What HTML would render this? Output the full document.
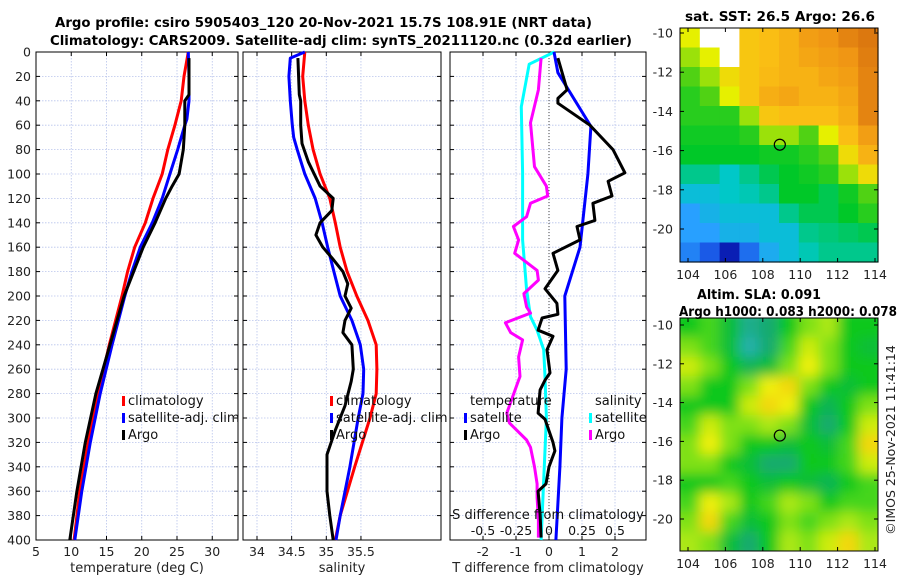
<!DOCTYPE html>
<html><head><meta charset="utf-8"><style>
body{margin:0;background:#fff;}
svg{display:block;font-family:"DejaVu Sans","Liberation Sans",sans-serif;}
</style></head><body>
<svg id="fig" width="900" height="580" viewBox="0 0 900 580" xmlns="http://www.w3.org/2000/svg">
<defs>
<filter id="blur" x="0" y="0" width="1" height="1"><feGaussianBlur stdDeviation="6"/></filter>
<clipPath id="clipMap2"><rect x="680" y="318" width="198" height="233"/></clipPath>
</defs>
<g font-weight="bold" font-size="13" fill="#000">
<text x="55" y="27" textLength="537" lengthAdjust="spacingAndGlyphs">Argo profile: csiro 5905403_120 20-Nov-2021 15.7S 108.91E (NRT data)</text>
<text x="50" y="45" textLength="582" lengthAdjust="spacingAndGlyphs">Climatology: CARS2009. Satellite-adj clim: synTS_20211120.nc (0.32d earlier)</text>
</g>
<g id="plots"></g>
</svg>
<script>
// ---- data ----
const depthsT = [0,20,40,60,80,100,120,140,160,180,200,240,280,320,360,400];
const tempClim = [26.6,26.0,25.6,24.7,23.7,22.9,21.6,20.5,19.0,18.0,17.2,15.4,13.8,12.4,11.2,10.4];
const depthsTS = [0,20,40,55,60,80,100,120,140,160,180,200,240,280,320,360,400];
const tempSat = [26.6,26.7,26.7,26.4,26.1,25.1,24.0,22.9,21.5,19.8,18.6,17.6,15.8,14.1,12.7,11.5,10.5];
const depthsTA = [5,35,40,60,80,100,110,120,140,160,200,240,280,320,360,400];
const tempArgo = [26.7,26.7,26.1,26.1,25.9,25.3,24.3,23.4,21.9,20.2,17.5,15.5,13.5,12.0,10.8,9.8];

const depthsSC = [0,20,40,60,80,100,120,140,160,180,200,220,240,260,280,300,340,380,400];
const salClim = [34.69,34.66,34.69,34.74,34.81,34.91,35.05,35.13,35.20,35.30,35.44,35.60,35.72,35.73,35.72,35.63,35.41,35.20,35.13];
const depthsSS = [0,5,20,40,60,70,80,100,120,140,160,180,200,220,240,260,280,300,340,380,400];
const salSat = [34.69,34.48,34.46,34.48,34.51,34.53,34.58,34.69,34.84,34.94,35.02,35.11,35.20,35.37,35.49,35.54,35.53,35.46,35.34,35.20,35.14];
const depthsSA = [5,35,40,60,75,90,110,120,130,140,150,160,170,180,190,200,210,220,230,240,260,270,290,310,330,360,380,400];
const salArgo = [34.59,34.61,34.63,34.63,34.65,34.74,34.91,35.10,35.08,34.91,34.85,34.95,35.10,35.24,35.31,35.27,35.36,35.27,35.24,35.37,35.39,35.36,35.27,35.13,35.01,35.01,35.05,35.10];

const depthsDT = [0,17,61,100,160,200,260,300,340,400];
const dTsat = [0.15,0.27,1.27,1.18,0.94,0.48,0.52,0.39,0.33,0.21];
const depthsDA = [5,31,38,42,60,80,99,106,118,124,138,143,154,165,179,194,206,215,218,228,233,244,263,269,277,296,301,320,327,340,354,360,379,398];
const dTargo = [0.27,0.55,0.27,0.27,1.24,1.94,2.30,1.79,1.91,1.33,1.39,0.85,0.94,0.12,0.27,-0.12,0.24,0.27,-0.21,-0.33,0.12,-0.06,0.03,-0.12,-0.27,-0.33,-0.12,0.12,0.18,0,-0.09,-0.33,-0.27,-0.24];
const depthsDSS = [0,10,45,99,154,195,217,228,244,266,300,400];
const dSsat = [0.04,-0.15,-0.21,-0.20,-0.20,-0.17,-0.14,-0.09,-0.04,-0.03,-0.02,-0.06];
const depthsDSA = [5,31,58,94,110,118,124,135,143,154,165,179,187,198,209,214,222,230,236,250,266,269,296,304,318,324,340,354,365,384,398];
const dSargo = [-0.06,-0.08,-0.14,-0.11,-0.02,-0.01,-0.14,-0.17,-0.27,-0.23,-0.26,-0.09,-0.08,-0.19,-0.17,-0.14,-0.33,-0.29,-0.20,-0.23,-0.22,-0.23,-0.32,-0.30,-0.17,-0.14,-0.11,-0.09,-0.09,-0.08,-0.08];

const depthTicks = [0,20,40,60,80,100,120,140,160,180,200,220,240,260,280,300,320,340,360,380,400];
const tempTicks = [5,10,15,20,25,30];
const salTicks = [34,34.5,35,35.5];
const salTickLabels = ["34","34.5","35","35.5"];
const dTTicks = [-2,-1,0,1,2];
const dSTicks = [-0.5,-0.25,0,0.25,0.5];
const dSTickLabels = ["-0.5","-0.25","0","0.25","0.5"];
const lonTicks = [104,106,108,110,112,114];
const latTicks = [-10,-12,-14,-16,-18,-20];

const sstGrid = [
[0.6,null,null,0.7,0.72,0.75,0.8,0.82,0.85,0.87],
[0.55,0.6,null,0.7,0.72,0.75,0.78,0.8,0.82,0.86],
[0.5,0.55,0.65,0.7,0.73,0.75,0.75,0.78,0.8,0.85],
[0.45,0.5,0.6,0.7,0.76,0.78,0.75,0.75,0.78,0.85],
[0.45,0.45,0.45,0.55,0.7,0.72,0.72,0.72,0.76,0.85],
[0.42,0.42,0.42,0.45,0.55,0.55,0.5,0.6,0.72,0.8],
[0.4,0.4,0.4,0.4,0.42,0.42,0.45,0.5,0.65,0.75],
[0.35,0.35,0.32,0.35,0.38,0.4,0.42,0.45,0.55,0.65],
[0.3,0.3,0.32,0.33,0.35,0.4,0.4,0.38,0.42,0.5],
[0.25,0.28,0.3,0.3,0.3,0.35,0.38,0.38,0.4,0.45],
[0.25,0.25,0.28,0.28,0.3,0.3,0.35,0.36,0.37,0.38],
[0.22,0.18,0.1,0.2,0.27,0.3,0.33,0.35,0.35,0.35]];
const slaGrid = [
[0.5,0.55,0.45,0.3,0.35,0.5,0.6,0.65,0.5,0.5],
[0.6,0.55,0.45,0.25,0.35,0.55,0.7,0.6,0.5,0.45],
[0.7,0.6,0.5,0.4,0.45,0.6,0.75,0.6,0.5,0.5],
[0.6,0.5,0.5,0.6,0.75,0.8,0.6,0.5,0.45,0.5],
[0.5,0.5,0.5,0.7,0.8,0.75,0.5,0.4,0.5,0.6],
[0.55,0.7,0.6,0.6,0.65,0.6,0.45,0.35,0.5,0.7],
[0.6,0.75,0.6,0.5,0.5,0.45,0.5,0.45,0.55,0.8],
[0.6,0.6,0.5,0.45,0.35,0.35,0.5,0.5,0.55,0.7],
[0.5,0.5,0.55,0.5,0.45,0.5,0.45,0.4,0.5,0.55],
[0.55,0.75,0.65,0.5,0.55,0.65,0.6,0.5,0.55,0.55],
[0.6,0.8,0.55,0.45,0.5,0.6,0.55,0.6,0.65,0.6],
[0.65,0.6,0.45,0.35,0.5,0.65,0.6,0.7,0.8,0.65]];

// ---- drawing ----
const NS="http://www.w3.org/2000/svg";
const root=document.getElementById('plots');
function mk(tag,attrs,parent,text){const e=document.createElementNS(NS,tag);for(const k in attrs)e.setAttribute(k,attrs[k]);if(text!==undefined)e.textContent=text;(parent||root).appendChild(e);return e;}
const Y0=52,Y1=540;
const yD=d=>Y0+(d/400)*(Y1-Y0);

function panel(name,x0,x1,xs,ticks,labels){
  const g=mk('g',{},root);
  
  
  for(const d of depthTicks){ if(d>0&&d<400) mk('line',{x1:x0,x2:x1,y1:yD(d),y2:yD(d),stroke:'#b8c4ec','stroke-width':0.8,'stroke-dasharray':'1.5,1.5'},g);}
  ticks.forEach((t,i)=>{const x=xs(t); if(x>x0&&x<x1) mk('line',{x1:x,x2:x,y1:Y0,y2:Y1,stroke:'#b8c4ec','stroke-width':0.8,'stroke-dasharray':'1.5,1.5'},g);
    mk('line',{x1:x,x2:x,y1:Y1,y2:Y1-4,stroke:'#000'},g);mk('line',{x1:x,x2:x,y1:Y0,y2:Y0+4,stroke:'#000'},g);
    if(labels) mk('text',{x:x,y:Y1+16,'font-size':12.5,'text-anchor':'middle',fill:'#222'},g,labels[i]);});
  for(const d of depthTicks){mk('line',{x1:x0,x2:x0+4,y1:yD(d),y2:yD(d),stroke:'#000'},g);mk('line',{x1:x1,x2:x1-4,y1:yD(d),y2:yD(d),stroke:'#000'},g);}
  mk('rect',{x:x0,y:Y0,width:x1-x0,height:Y1-Y0,fill:'none',stroke:'#000','stroke-width':1},g);
  return g;
}
function line(g,name,xs,xv,dv,color,w){
  const p=mk('path',{d:xv.map((v,i)=>(i?'L':'M')+xs(v).toFixed(1)+','+yD(dv[i]).toFixed(1)).join(''),fill:'none',stroke:color,'stroke-width':w||3,'stroke-linejoin':'round'},g);
  
  
}
function legendEntry(g,name,x,y,color,label){
  const e=mk('g',{},g);
  
  
  mk('rect',{x:x-6,y:y-9,width:3,height:10,fill:color},e);
  mk('text',{x:x,y:y,'font-size':13,fill:'#111'},e,label);
}

const yl=mk('g',{'font-size':12.5,'text-anchor':'end',fill:'#222'});


depthTicks.forEach(d=>mk('text',{x:31,y:yD(d)+4.5},yl,String(d)));

const xT=t=>36+(t-5)*7.05;
const p1=panel('temperature-panel',36,238,xT,tempTicks,tempTicks.map(String));
line(p1,'temp-climatology-line',xT,tempClim,depthsT,'#f00');
line(p1,'temp-satellite-line',xT,tempSat,depthsTS,'#00f');
line(p1,'temp-argo-line',xT,tempArgo,depthsTA,'#000');
legendEntry(p1,'legend-climatology',128,405,'#f00','climatology');
legendEntry(p1,'legend-satellite-adj',128,422,'#00f','satellite-adj. clim');
legendEntry(p1,'legend-argo',128,439,'#000','Argo');
mk('text',{x:137,y:572,'font-size':13,'text-anchor':'middle',fill:'#222'},p1,'temperature (deg C)');

const xS=s=>257+(s-34)*69.3;
const p2=panel('salinity-panel',243,441,xS,salTicks,salTickLabels);
line(p2,'sal-climatology-line',xS,salClim,depthsSC,'#f00');
line(p2,'sal-satellite-line',xS,salSat,depthsSS,'#00f');
line(p2,'sal-argo-line',xS,salArgo,depthsSA,'#000');
legendEntry(p2,'legend-climatology-2',336,405,'#f00','climatology');
legendEntry(p2,'legend-satellite-adj-2',336,422,'#00f','satellite-adj. clim');
legendEntry(p2,'legend-argo-2',336,439,'#000','Argo');
mk('text',{x:342,y:572,'font-size':13,'text-anchor':'middle',fill:'#222'},p2,'salinity');

const xDT=t=>549+t*33;
const xDS=s=>549+s*132;
const p3=panel('difference-panel',450,646,xDT,dTTicks,dTTicks.map(String));
mk('line',{x1:549,x2:549,y1:Y0,y2:Y1,stroke:'#444','stroke-width':1,'stroke-dasharray':'1,2'},p3);
line(p3,'salinity-satellite-diff-line',xDS,dSsat,depthsDSS,'#0ff');
line(p3,'salinity-argo-diff-line',xDS,dSargo,depthsDSA,'#f0f');
line(p3,'temp-satellite-diff-line',xDT,dTsat,depthsDT,'#00f');
line(p3,'temp-argo-diff-line',xDT,dTargo,depthsDA,'#000');
mk('text',{x:470,y:405,'font-size':13,fill:'#111'},p3,'temperature');
mk('text',{x:595,y:405,'font-size':13,fill:'#111'},p3,'salinity');
legendEntry(p3,'legend-temp-satellite',470,422,'#00f','satellite');
legendEntry(p3,'legend-temp-argo',470,439,'#000','Argo');
legendEntry(p3,'legend-sal-satellite',595,422,'#0ff','satellite');
legendEntry(p3,'legend-sal-argo',595,439,'#f0f','Argo');
mk('text',{x:548,y:519,'font-size':13,'text-anchor':'middle',fill:'#111'},p3,'S difference from climatology');
dSTicks.forEach((s,i)=>mk('text',{x:xDS(s),y:535,'font-size':12.5,'text-anchor':'middle',fill:'#111'},p3,dSTickLabels[i]));
mk('text',{x:548,y:572,'font-size':13,'text-anchor':'middle',fill:'#222'},p3,'T difference from climatology');

function sstColor(v){
  const stops=[[0.05,[0,0,140]],[0.15,[20,60,220]],[0.25,[40,160,255]],[0.32,[0,200,200]],[0.4,[0,200,40]],[0.5,[80,210,20]],[0.6,[230,240,0]],[0.72,[250,190,20]],[0.82,[240,150,20]],[0.92,[200,90,10]]];
  return interp(stops,v);}
function slaColor(v){
  const stops=[[0.2,[40,180,200]],[0.35,[20,170,110]],[0.5,[10,200,30]],[0.62,[150,230,20]],[0.75,[240,240,10]],[0.85,[245,190,20]]];
  return interp(stops,v);}
function interp(stops,v){
  if(v<=stops[0][0])return 'rgb('+stops[0][1]+')';
  for(let i=1;i<stops.length;i++){if(v<=stops[i][0]){const a=stops[i-1],b=stops[i],f=(v-a[0])/(b[0]-a[0]);return 'rgb('+a[1].map((c,k)=>Math.round(c+(b[1][k]-c)*f)).join(',')+')';}}
  return 'rgb('+stops[stops.length-1][1]+')';}

function map(name,x0,y0,w,h,gridData,colorFn,smooth,lon0px,lonScale,latPx){
  const g=mk('g',{},root);
  
  
  const cells=mk('g',smooth?{'clip-path':'url(#clipMap2)'}:{},g);
  const inner=mk('g',smooth?{filter:'url(#blur)'}:{},cells);
  const rows=gridData.length,cols=gridData[0].length;
  const cw=w/cols,ch=h/rows;
  for(let r=0;r<rows;r++)for(let c=0;c<cols;c++){const v=gridData[r][c];
    const cell=mk('rect',{x:x0+c*cw-(smooth&&c==0?10:0),y:y0+r*ch-(smooth&&r==0?10:0),width:cw+0.6+(smooth&&(c==0||c==cols-1)?10:0),height:ch+0.6+(smooth&&(r==0||r==rows-1)?10:0),fill:v===null?'#fff':colorFn(v)},inner);
    
    }
  mk('rect',{x:x0,y:y0,width:w,height:h,fill:'none',stroke:'#000','stroke-width':1},g);
  lonTicks.forEach(l=>{const x=lon0px+(l-104)*lonScale;mk('line',{x1:x,x2:x,y1:y0+h,y2:y0+h-4,stroke:'#000'},g);mk('line',{x1:x,x2:x,y1:y0,y2:y0+4,stroke:'#000'},g);
    mk('text',{x:x,y:y0+h+17,'font-size':12.5,'text-anchor':'middle',fill:'#222'},g,String(l));});
  latTicks.forEach(l=>{const y=latPx(l);mk('line',{x1:x0,x2:x0+4,y1:y,y2:y,stroke:'#000'},g);mk('line',{x1:x0+w,x2:x0+w-4,y1:y,y2:y,stroke:'#000'},g);
    mk('text',{x:x0-7,y:y+4.5,'font-size':12.5,'text-anchor':'end',fill:'#222'},g,String(l));});
  const ax=lon0px+(108.91-104)*lonScale, ay=latPx(-15.7);
  const m=mk('circle',{cx:ax,cy:ay,r:5.5,fill:'none',stroke:'#000','stroke-width':1.2},g);
  
  
  return g;
}
const m1=map('sst-map',680,28,198,234,sstGrid,sstColor,false,688,18.7,l=>33+(-10-l)*19.6);
mk('text',{x:685,y:21,'font-size':13,'font-weight':'bold',fill:'#000',textLength:190,lengthAdjust:'spacingAndGlyphs'},m1,'sat. SST: 26.5 Argo: 26.6');
const m2=map('sla-map',680,318,198,233,slaGrid,slaColor,true,688,18.7,l=>325+(-10-l)*19.4);
mk('text',{x:697,y:299,'font-size':13,'font-weight':'bold',fill:'#000',textLength:124,lengthAdjust:'spacingAndGlyphs'},m2,'Altim. SLA: 0.091');
mk('text',{x:679,y:316,'font-size':13,'font-weight':'bold',fill:'#000',textLength:218,lengthAdjust:'spacingAndGlyphs'},m2,'Argo h1000: 0.083 h2000: 0.078');
const cr=mk('text',{x:0,y:0,'font-size':12.5,'text-anchor':'middle',fill:'#222',transform:'translate(895,440) rotate(-90)'},root,'©IMOS 25-Nov-2021 11:41:14');


</script>
</body></html>
